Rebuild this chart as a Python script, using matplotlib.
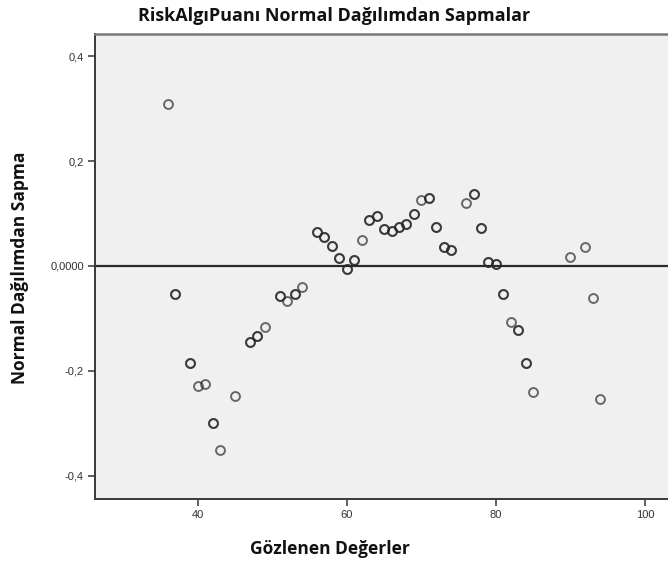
import numpy as np
import matplotlib
matplotlib.use('Agg')
import matplotlib.pyplot as plt

# observed values and their deviation from the normal expectation
observed = [36, 37, 39, 40, 41, 42, 43, 45, 47, 48, 49, 51, 52, 53, 54,
            56, 57, 58, 59, 60, 61, 62, 63, 64, 65, 66, 67, 68, 69, 70,
            71, 72, 73, 74, 76, 77, 78, 79, 80, 81, 82, 83, 84, 85,
            90, 92, 93, 94]
deviation = [0.309, -0.054, -0.185, -0.230, -0.226, -0.300, -0.351, -0.248,
             -0.146, -0.133, -0.117, -0.058, -0.067, -0.054, -0.040,
             0.064, 0.055, 0.039, 0.016, -0.005, 0.011, 0.050, 0.088, 0.095,
             0.070, 0.067, 0.074, 0.081, 0.099, 0.126,
             0.130, 0.074, 0.036, 0.031, 0.121, 0.137, 0.073, 0.008, 0.003,
             -0.053, -0.107, -0.122, -0.186, -0.241,
             0.018, 0.036, -0.061, -0.254]
# cases per value (tied cases overlap and print darker)
cases = [1, 2, 2, 1, 1, 2, 1, 1, 2, 2, 1, 2, 1, 2, 1,
         2, 2, 2, 2, 2, 2, 1, 2, 2, 2, 2, 2, 2, 2, 1,
         2, 2, 2, 2, 1, 2, 2, 2, 2, 2, 1, 2, 2, 1,
         1, 1, 1, 1]

xticks = [40, 60, 80, 100]
yticks = [0.4, 0.2, 0.0, -0.2, -0.4]
ytick_labels = ['0,4', '0,2', '0,0000', '-0,2', '-0,4']

fig = plt.figure(figsize=(6.68, 5.68), dpi=100)
ax = fig.add_axes([95 / 668, 69 / 568, 573 / 668, 465 / 568])
ax.set_facecolor('#f0f0f0')

xs = np.repeat(observed, cases)
ys = np.repeat(deviation, cases)
ax.plot(xs, ys, 'o', ls='none', ms=6.4, mfc='none', mec='#262626',
        mew=1.4, alpha=0.68)

ax.axhline(0, color='#2a2a2a', lw=1.6, zorder=1)

ax.set_xlim(26.2, 103.1)
ax.set_ylim(-0.4447, 0.4427)
ax.set_xticks(xticks)
ax.set_yticks(yticks)
ax.set_yticklabels(ytick_labels)
for lbl in ax.get_xticklabels() + ax.get_yticklabels():
    lbl.set_fontfamily('Liberation Sans')
    lbl.set_fontsize(8)
    lbl.set_color('#333333')
ax.tick_params(direction='out', length=5, width=1.2, color='#444444', pad=3)

for side in ['left', 'bottom']:
    ax.spines[side].set_color('#3a3a3a')
    ax.spines[side].set_linewidth(1.4)
ax.spines['top'].set_color('#777777')
ax.spines['top'].set_linewidth(1.8)
ax.spines['right'].set_visible(False)

fig.text(0.5, 1 - 16 / 568, 'RiskAlgıPuanı Normal Dağılımdan Sapmalar',
         ha='center', va='center', fontsize=13, fontweight='bold',
         family='Open Sans', color='#111111')
fig.text(330 / 668, 1 - 549 / 568, 'Gözlenen Değerler', ha='center',
         va='center', fontsize=12.5, fontweight='bold', family='Open Sans',
         color='#111111')
fig.text(20 / 668, 1 - 268 / 568, 'Normal Dağılımdan Sapma', ha='center',
         va='center', rotation=90, fontsize=12.5, fontweight='bold',
         family='Open Sans', color='#111111')

fig.savefig('out.png', dpi=100)
